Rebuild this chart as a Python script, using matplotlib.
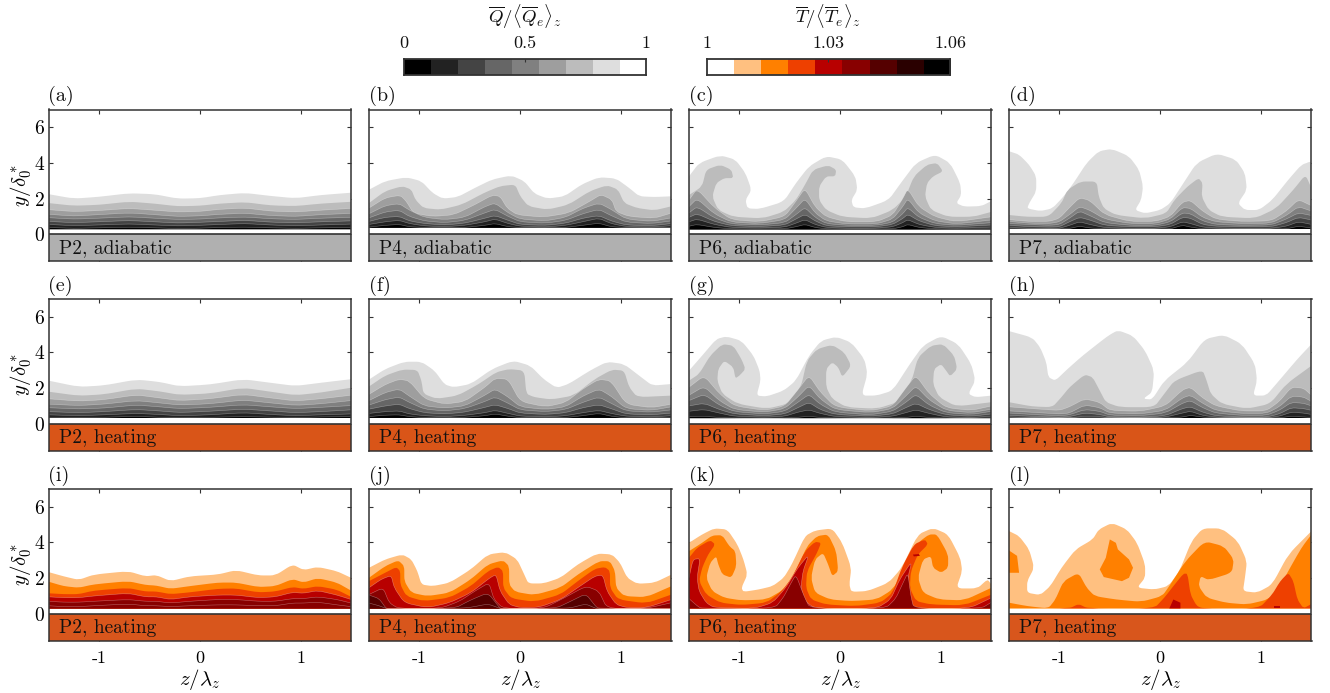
import numpy as np
import matplotlib
matplotlib.use("Agg")
import matplotlib.pyplot as plt
from matplotlib.colors import ListedColormap
from matplotlib.patches import PathPatch, Rectangle
from matplotlib.path import Path

plt.rcParams['font.family'] = ['cmr10', 'DejaVu Serif']
plt.rcParams['mathtext.fontset'] = 'cm'
plt.rcParams['axes.unicode_minus'] = False
plt.rcParams['axes.formatter.use_mathtext'] = True

# ---------- colours / ticks ----------
q_colors = ['#000000', '#222222', '#444444', '#666666', '#808080', '#9e9e9e', '#bcbcbc', '#dedede', '#ffffff']
t_colors = ['#ffffff', '#ffc080', '#ff8000', '#ee4000', '#b80000', '#880000', '#550000', '#2a0000', '#000000']
q_ticks = ['0', '0.5', '1']
t_ticks = ['1', '1.03', '1.06']
panel_letters = list('abcdefghijkl')
panel_names = ['P2, adiabatic', 'P4, adiabatic', 'P6, adiabatic', 'P7, adiabatic',
               'P2, heating', 'P4, heating', 'P6, heating', 'P7, heating',
               'P2, heating', 'P4, heating', 'P6, heating', 'P7, heating']
wall_adiabatic = '#b0b0b0'
wall_heat_q = '#d95518'
wall_heat_t = '#d8561c'

# ---------- panel a ----------
a_floor = 0.29
a_z = [-1.5,-1.25,-1,-.7,-.45,-.22,0,.2,.45,.7,.95,1.2,1.5]
a8 = [2.25,2.0,2.1,2.3,2.25,2.0,2.02,2.2,2.32,2.15,2.02,2.2,2.33]
a7 = [1.75,1.6,1.65,1.83,1.72,1.57,1.6,1.72,1.8,1.62,1.58,1.72,1.82]
a6 = [1.38,1.27,1.33,1.45,1.35,1.25,1.28,1.4,1.47,1.3,1.25,1.35,1.45]
a5 = [1.12,1.02,1.1,1.2,1.1,1.0,1.03,1.12,1.18,1.05,1.0,1.1,1.17]
a4 = [.93,.85,.9,.98,.9,.83,.85,.92,.97,.87,.83,.9,.95]
a3 = [.72,.65,.7,.77,.7,.63,.67,.72,.78,.68,.64,.7,.75]
a2 = [.55,.48,.52,.58,.52,.47,.5,.55,.6,.52,.47,.52,.57]
a1 = [.38,.33,.36,.4,.36,.32,.34,.38,.4,.36,.33,.36,.38]

# ---------- panel b ----------
b_floor = 0.37
b8 = [(-1.5,2.5),(-1.34,2.98),(-1.13,3.2),(-.98,2.98),(-.87,2.32),(-.77,2.0),(-.62,2.09),(-.45,2.6),(-.28,3.07),(-.09,3.3),(.04,2.98),(.14,2.28),(.27,2.0),(.44,2.13),(.61,2.8),(.78,3.2),(.95,3.13),(1.08,2.6),(1.18,2.13),(1.33,2.09),(1.5,2.13)]
b7 = [(-1.5,1.75),(-1.34,2.42),(-1.17,2.7),(-1.08,2.51),(-1.04,1.94),(-.96,1.47),(-.79,1.38),(-.58,1.66),(-.36,2.32),(-.2,2.7),(-.05,2.79),(0,2.13),(.08,1.57),(.27,1.38),(.48,1.66),(.69,2.42),(.86,2.75),(.97,2.51),(1.03,1.75),(1.16,1.47),(1.33,1.34),(1.5,1.57)]
b6 = [(-1.5,1.47),(-1.34,2.04),(-1.19,2.19),(-1.13,1.85),(-1.06,1.19),(-.87,1.0),(-.66,1.09),(-.45,1.66),(-.28,2.19),(-.2,2.13),(-.13,1.47),(-.03,1.09),(.23,.96),(.48,1.19),(.69,1.85),(.8,2.23),(.91,1.94),(.95,1.28),(1.08,1.0),(1.33,.9),(1.5,1.19)]
b_z = [-1.5,-1.34,-1.2,-1.1,-.95,-.75,-.55,-.35,-.25,-.12,0,.25,.45,.62,.78,.9,1.05,1.3,1.5]
b5 = [1.15,1.6,1.72,1.35,.95,.82,.95,1.55,1.75,1.2,.85,.75,.95,1.45,1.75,1.4,.85,.72,.92]
b4 = [.92,1.25,1.35,1.0,.75,.65,.78,1.2,1.4,1.0,.7,.62,.78,1.15,1.4,1.05,.68,.6,.75]
b3 = [.72,.95,1.0,.75,.6,.52,.62,.9,1.05,.78,.55,.5,.62,.9,1.05,.75,.52,.48,.6]
b2 = [.55,.7,.78,.6,.47,.42,.5,.7,.85,.6,.45,.4,.5,.7,.9,.6,.43,.4,.48]
b1 = [.4,.5,.55,.42,.38,.38,.38,.5,.6,.42,.38,.38,.38,.5,.62,.42,.38,.38,.38]

# ---------- panel c ----------
c_floor = 0.28
c8 = [(-1.5,3.25),(-1.4,4.0),(-1.19,4.43),(-1.04,4.19),(-.94,3.43),(-.88,2.49),(-.94,1.92),(-.92,1.45),(-.8,1.42),(-.56,1.83),(-.44,2.87),(-.31,3.81),(-.14,4.38),(.02,4.19),(.15,3.25),(.17,2.49),(.11,1.92),(.13,1.51),(.25,1.45),(.48,1.92),(.6,2.87),(.75,4.0),(.94,4.47),(1.09,4.0),(1.19,2.87),(1.2,2.2),(1.15,1.74),(1.23,1.55),(1.4,1.58),(1.5,1.87)]
c7 = [(-1.5,2.2),(-1.37,2.68),(-1.33,3.62),(-1.19,3.9),(-1.08,3.62),(-1.06,3.15),(-1.15,3.15),(-1.23,2.87),(-1.27,2.11),(-1.21,1.36),(-1.06,.98),(-.77,.89),(-.56,1.26),(-.44,1.92),(-.35,2.77),(-.27,3.62),(-.12,3.87),(-.04,3.62),(-.05,3.25),(-.14,3.25),(-.21,2.68),(-.21,1.92),(-.14,1.36),(.02,.98),(.31,.89),(.52,1.36),(.65,2.11),(.73,3.25),(.86,3.9),(.96,4.0),(1.02,3.53),(.92,3.25),(.86,2.87),(.84,2.11),(.9,1.36),(1.07,.98),(1.32,.98),(1.5,1.26)]
c_z = [-1.5,-1.42,-1.25,-1.08,-.8,-.55,-.44,-.35,-.25,-.14,.06,.36,.52,.62,.67,.78,.94,1.15,1.5]
c6 = [1.92,2.55,1.5,.82,.7,1.0,1.85,2.58,1.55,.98,.7,.7,1.08,2.0,2.55,1.55,.98,.7,.98]
c5 = [1.55,2.0,1.15,.68,.6,.82,1.45,2.0,1.2,.75,.58,.58,.85,1.55,2.0,1.2,.75,.58,.8]
c4 = [1.2,1.55,.92,.58,.52,.65,1.1,1.5,.95,.6,.5,.5,.68,1.15,1.5,.95,.6,.5,.65]
c3 = [.95,1.15,.72,.48,.43,.52,.85,1.12,.75,.48,.42,.42,.55,.88,1.12,.75,.48,.42,.52]
c2 = [.7,.85,.55,.38,.35,.4,.62,.82,.55,.38,.34,.34,.42,.65,.82,.55,.38,.34,.4]
c1 = [.45,.55,.38,.3,.3,.3,.42,.55,.38,.3,.3,.3,.3,.42,.55,.38,.3,.3,.3]

# ---------- panel d ----------
d_floor = 0.3
d8 = [(-1.5,4.66),(-1.4,4.47),(-1.3,3.9),(-1.23,3.25),(-1.23,2.4),(-1.3,1.74),(-1.32,1.45),(-1.19,1.3),(-1.07,1.45),(-.96,2.11),(-.86,2.87),(-.73,4.0),(-.61,4.66),(-.48,4.79),(-.31,4.38),(-.21,3.62),(-.17,2.68),(-.19,1.92),(-.25,1.36),(-.15,1.17),(0,1.36),(.1,1.74),(.23,2.87),(.36,4.0),(.56,4.53),(.75,4.19),(.84,3.43),(.86,2.49),(.77,1.74),(.84,1.36),(.98,1.36),(1.11,1.92),(1.27,3.06),(1.4,3.9),(1.5,4.09)]
d7 = [(-1.5,1.08),(-1.32,.98),(-1.11,.98),(-.98,1.74),(-.92,2.49),(-.79,2.96),(-.63,2.96),(-.61,2.11),(-.56,1.45),(-.44,1.08),(-.15,.89),(.06,1.17),(.14,1.92),(.27,2.68),(.38,3.15),(.42,2.87),(.41,2.11),(.48,1.36),(.61,.98),(.94,.89),(1.15,1.45),(1.32,2.49),(1.44,3.34),(1.5,2.58)]
d_z = [-1.5,-1.3,-1.1,-1.0,-.9,-.8,-.7,-.55,-.3,-.05,.1,.22,.3,.42,.55,.8,1.1,1.25,1.37,1.5]
d6 = [.82,.72,.72,.9,1.5,2.05,1.9,1.1,.72,.72,1.0,1.8,1.9,1.3,.85,.72,.75,1.3,1.95,1.6]
d5 = [.72,.62,.6,.7,1.1,1.55,1.35,.85,.6,.6,.85,1.5,1.45,.95,.7,.6,.62,1.05,1.55,1.3]
d4 = [.6,.55,.5,.55,.9,1.3,1.05,.65,.5,.5,.7,1.2,1.15,.75,.55,.5,.52,.85,1.2,1.05]
d3 = [.5,.43,.4,.42,.7,.95,.8,.5,.42,.42,.55,.95,.9,.55,.45,.42,.42,.65,.95,.8]
d2 = [.38,.33,.32,.33,.5,.7,.55,.37,.33,.33,.42,.7,.6,.4,.35,.33,.33,.45,.7,.55]
d1 = [.3,.3,.3,.3,.32,.45,.35,.3,.3,.3,.3,.5,.4,.3,.3,.3,.3,.3,.45,.35]

# ---------- panel e ----------
e_floor = 0.33
e_z = [-1.5,-1.2,-.95,-.63,-.4,-.2,.1,.43,.7,.95,1.2,1.5]
e8 = [2.42,2.07,2.15,2.48,2.35,2.1,2.2,2.5,2.3,2.12,2.3,2.5]
e7 = [1.8,1.57,1.65,1.97,1.82,1.62,1.7,2.02,1.8,1.6,1.75,2.02]
e6 = [1.4,1.27,1.35,1.62,1.45,1.3,1.4,1.65,1.45,1.28,1.4,1.6]
e5 = [1.1,1.02,1.1,1.3,1.17,1.05,1.12,1.33,1.17,1.03,1.12,1.3]
e4 = [.9,.83,.88,1.05,.95,.85,.92,1.07,.95,.85,.92,1.02]
e3 = [.68,.62,.68,.8,.72,.63,.7,.82,.72,.62,.68,.78]
e2 = [.5,.45,.5,.58,.52,.45,.5,.62,.52,.45,.5,.55]
e1 = [.36,.34,.36,.42,.36,.33,.36,.4,.37,.34,.38,.4]

# ---------- panel f ----------
f_floor = 0.33
f8 = [(-1.5,2.48),(-1.34,3.07),(-1.15,3.48),(-.98,3.48),(-.85,2.98),(-.75,2.2),(-.66,2.05),(-.49,2.23),(-.28,3.07),(-.07,3.54),(.1,3.26),(.23,2.51),(.36,2.01),(.48,2.23),(.69,2.98),(.86,3.48),(1.03,3.35),(1.2,2.61),(1.31,2.14),(1.5,2.23)]
f7 = [(-1.5,2.09),(-1.34,2.7),(-1.17,3.04),(-1.02,3.02),(-.98,2.42),(-.96,1.68),(-.83,1.4),(-.62,1.58),(-.41,2.23),(-.24,2.89),(-.11,3.07),(.04,2.98),(.06,1.68),(.14,1.49),(.31,1.36),(.53,1.58),(.74,2.51),(.91,3.04),(1.03,2.98),(1.08,2.05),(1.16,1.49),(1.5,1.58)]
f_z = [-1.5,-1.34,-1.2,-1.1,-.95,-.75,-.55,-.35,-.25,-.12,0,.25,.45,.62,.78,.9,1.05,1.3,1.5]
f6 = [1.65,2.2,2.5,2.4,1.4,1.1,1.25,2.05,2.55,2.5,1.25,.95,1.2,1.95,2.5,2.4,1.1,.9,1.1]
f5 = [1.3,1.75,1.95,1.55,1.0,.88,1.0,1.6,1.95,1.5,.95,.8,.95,1.55,1.95,1.55,.85,.75,.95]
f4 = [1.05,1.35,1.5,1.2,.82,.72,.85,1.25,1.5,1.15,.78,.68,.8,1.2,1.5,1.15,.72,.65,.78]
f3 = [.82,1.0,1.1,.85,.62,.55,.65,.92,1.07,.85,.6,.52,.62,.9,1.07,.85,.55,.5,.6]
f2 = [.58,.68,.72,.55,.45,.4,.47,.62,.75,.58,.43,.38,.45,.62,.75,.58,.42,.38,.45]
f1 = [.4,.48,.5,.4,.34,.33,.36,.45,.55,.42,.34,.33,.35,.45,.58,.42,.33,.33,.36]

# ---------- panel g ----------
g_floor = 0.32
g8 = [(-1.5,2.98),(-1.37,3.82),(-1.23,4.75),(-1.13,4.9),(-.98,4.66),(-.86,3.82),(-.8,2.98),(-.79,2.42),(-.83,1.58),(-.73,1.53),(-.56,1.86),(-.44,2.42),(-.31,3.82),(-.19,4.66),(-.04,4.88),(.11,4.56),(.24,3.63),(.27,2.79),(.21,1.58),(.36,1.58),(.52,1.86),(.69,3.35),(.82,4.38),(1.0,4.93),(1.17,4.47),(1.3,3.35),(1.34,2.42),(1.27,1.68),(1.34,1.49),(1.5,1.58)]
g7 = [(-1.5,2.42),(-1.4,2.79),(-1.29,3.82),(-1.17,4.47),(-1.06,4.38),(-.98,3.63),(-.94,3.07),(-1.0,2.7),(-1.04,2.55),(-1.06,3.17),(-1.15,3.54),(-1.21,3.07),(-1.22,2.42),(-1.17,1.68),(-1.02,1.12),(-.73,.84),(-.52,1.12),(-.39,2.05),(-.33,3.54),(-.23,4.19),(-.08,4.43),(.04,4.0),(.11,3.26),(.02,2.61),(-.02,3.17),(-.08,3.45),(-.14,3.07),(-.14,2.05),(-.08,1.4),(.06,.93),(.36,.84),(.57,1.21),(.71,2.42),(.77,3.72),(.9,4.38),(1.02,4.47),(1.13,3.82),(1.16,3.07),(1.09,2.66),(1.05,2.98),(1.0,3.35),(.93,3.07),(.92,2.23),(.98,1.49),(1.15,.97),(1.5,1.21)]
g_z = [-1.5,-1.35,-1.2,-1.05,-.75,-.55,-.42,-.31,-.2,-.05,.3,.52,.65,.75,.88,1.05,1.3,1.5]
g6 = [2.05,2.7,1.7,1.0,.75,1.0,1.9,2.72,1.8,.95,.72,1.0,2.0,2.72,1.7,.9,.75,1.0]
g5 = [1.6,2.1,1.3,.8,.65,.85,1.5,2.15,1.4,.8,.62,.85,1.55,2.12,1.35,.75,.62,.82]
g4 = [1.3,1.65,1.05,.68,.55,.7,1.2,1.65,1.1,.65,.5,.7,1.2,1.65,1.05,.62,.52,.7]
g3 = [1.0,1.15,.8,.55,.45,.55,.9,1.2,.8,.52,.42,.55,.9,1.15,.8,.5,.42,.55]
g2 = [.7,.8,.6,.42,.37,.42,.65,.78,.58,.4,.35,.42,.62,.78,.58,.38,.35,.42]
g1 = [.4,.42,.35,.32,.32,.32,.36,.42,.35,.32,.32,.32,.35,.42,.35,.32,.32,.33]

# ---------- panel h ----------
h_floor = 0.33
h8 = [(-1.5,5.2),(-1.27,4.84),(-1.19,4.28),(-1.13,3.45),(-1.11,2.61),(-1.04,2.42),(-.92,3.07),(-.77,3.82),(-.52,4.93),(-.42,5.25),(-.27,4.93),(-.15,4.1),(-.06,2.98),(-.08,1.77),(-.17,1.4),(-.08,1.36),(.04,2.42),(.27,3.45),(.44,4.75),(.63,4.99),(.81,4.47),(.94,3.35),(.96,2.42),(.92,1.58),(1.05,1.58),(1.15,2.23),(1.36,3.63),(1.5,4.47)]
h7 = [(-1.5,1.21),(-1.27,.97),(-1.07,.93),(-.98,1.49),(-.9,2.05),(-.75,2.76),(-.67,2.61),(-.6,1.86),(-.54,1.21),(-.4,.93),(-.06,.93),(.04,1.68),(.14,2.42),(.42,3.02),(.46,2.42),(.5,1.68),(.61,1.12),(.86,.84),(1.09,1.12),(1.25,2.23),(1.5,3.26)]
h_z = [-1.5,-1.2,-1.0,-.9,-.75,-.6,-.5,-.2,.05,.22,.3,.42,.55,.8,1.05,1.18,1.3,1.42,1.5]
h6 = [.95,.82,.75,.95,1.4,1.2,.75,.7,1.0,1.9,2.05,1.45,1.0,.72,.72,1.25,2.05,2.0,1.6]
h5 = [.72,.62,.55,.6,1.05,.9,.6,.55,.75,1.45,1.6,1.15,.75,.58,.58,.95,1.55,1.5,1.25]
h4 = [.6,.5,.45,.5,.8,.7,.48,.45,.6,1.15,1.3,.9,.6,.47,.47,.75,1.2,1.15,1.0]
h3 = [.47,.4,.36,.4,.6,.52,.38,.36,.45,.85,.95,.65,.45,.37,.37,.55,.9,.85,.75]
h2 = [.38,.33,.33,.33,.42,.4,.33,.33,.37,.6,.7,.47,.37,.33,.33,.42,.65,.6,.52]
h1 = [.33,.33,.33,.33,.33,.33,.33,.33,.33,.37,.47,.37,.33,.33,.33,.33,.42,.38,.35]

# ---------- panel i ----------
i_floor = 0.3
i_z = [-1.5,-1.35,-1.2,-1.05,-.71,-.54,-.43,-.29,-.1,.18,.36,.58,.75,.92,1.03,1.17,1.36,1.5]
i1 = [2.34,2.1,1.9,2.2,2.39,2.1,2.17,1.83,2.1,2.2,2.45,2.15,2.15,2.77,2.45,2.63,2.39,2.02]
i2 = [1.8,1.55,1.46,1.65,1.83,1.62,1.58,1.4,1.55,1.75,1.75,1.5,1.55,1.95,1.75,2.0,1.75,1.3]
i3 = [1.15,1.1,1.1,1.3,1.45,1.25,1.25,1.1,1.2,1.4,1.42,1.2,1.25,1.5,1.4,1.55,1.35,.95]
i4 = [.95,.9,.9,1.0,1.15,.95,.95,.8,.95,1.05,1.05,.9,.95,1.2,1.15,1.3,1.05,.8]
i5 = [.7,.65,.65,.7,.8,.7,.7,.6,.7,.8,.8,.7,.7,.85,.85,.95,.8,.6]
i6 = [.45,.4,.4,.45,.55,.45,.45,.4,.45,.5,.5,.45,.45,.6,.6,.65,.5,.4]

# ---------- panel j ----------
j_floor = 0.3
j1 = [(-1.5,2.58),(-1.34,3.05),(-1.17,3.33),(-1.08,3.05),(-1.02,2.39),(-.98,1.64),(-.87,1.55),(-.7,1.74),(-.49,2.49),(-.32,3.33),(-.15,3.46),(-.03,3.05),(.04,2.2),(.08,1.7),(.23,1.7),(.4,2.02),(.57,2.77),(.76,3.38),(.91,3.33),(.99,2.86),(1.06,2.02),(1.16,1.68),(1.33,1.74),(1.5,2.2)]
j2 = [(-1.5,2.02),(-1.34,2.67),(-1.21,3.0),(-1.15,2.67),(-1.15,1.83),(-1.08,1.18),(-.92,.99),(-.7,1.18),(-.49,1.93),(-.32,2.77),(-.17,3.0),(-.11,2.67),(-.11,1.64),(-.05,1.23),(.14,1.05),(.4,1.46),(.57,2.2),(.78,2.95),(.89,2.95),(.94,2.39),(.95,1.46),(1.03,.99),(1.25,.93),(1.5,1.55)]
j3 = [(-1.5,1.83),(-1.34,2.3),(-1.23,2.62),(-1.19,2.39),(-1.19,1.64),(-1.13,.99),(-.96,.71),(-.7,.9),(-.49,1.55),(-.32,2.39),(-.22,2.63),(-.17,2.39),(-.17,1.46),(-.09,.86),(.14,.67),(.4,1.08),(.57,1.83),(.74,2.52),(.84,2.62),(.89,2.39),(.89,1.46),(.97,.8),(1.25,.58),(1.5,1.08)]
j4 = [(-1.5,1.46),(-1.38,1.93),(-1.28,2.15),(-1.25,1.46),(-1.15,.62),(-.92,.34),(-.7,.62),(-.49,1.18),(-.3,2.02),(-.24,2.2),(-.2,1.27),(-.11,.52),(0,.34),(.19,.37),(.4,.8),(.57,1.46),(.74,2.11),(.82,2.17),(.86,1.27),(.95,.52),(1.06,.34),(1.25,.34),(1.5,.8)]
j5 = [(-1.5,1.08),(-1.36,1.46),(-1.3,.62),(-1.21,.3),(-.79,.3),(-.6,.71),(-.45,1.27),(-.31,1.74),(-.26,.8),(-.17,.3),(.23,.3),(.44,.9),(.65,1.55),(.78,1.27),(.86,.3),(1.25,.3),(1.5,.62)]
j_z = [-1.5,-1.4,-1.33,-1.3,-.65,-.5,-.32,-.2,-.18,.35,.5,.65,.75,.78,1.5]
j6 = [1.05,.85,.3,.3,.3,.75,1.18,.3,.3,.3,.7,1.12,.4,.3,.3]
j7 = [.6,.45,.3,.3,.3,.35,.55,.3,.3,.3,.33,.55,.3,.3,.3]

# ---------- panel k ----------
k_floor = 0.3
k1 = [(-1.5,3.98),(-1.37,4.45),(-1.25,4.79),(-1.12,4.73),(-1.02,3.89),(-.96,3.05),(-.92,2.2),(-.98,1.46),(-.96,1.23),(-.81,1.36),(-.67,1.55),(-.56,2.02),(-.48,2.77),(-.35,4.36),(-.25,4.67),(-.08,4.79),(.02,3.98),(.11,2.58),(.09,1.64),(.11,1.23),(.27,1.27),(.48,1.74),(.61,2.58),(.77,4.45),(.92,4.82),(1.07,4.45),(1.19,3.14),(1.21,2.39),(1.15,1.42),(1.36,1.42),(1.46,1.93),(1.5,1.64)]
k2 = [(-1.5,3.51),(-1.37,3.98),(-1.27,4.39),(-1.17,4.41),(-1.1,3.79),(-1.04,3.51),(-1.03,2.67),(-1.08,2.02),(-1.17,2.21),(-1.21,2.77),(-1.23,3.23),(-1.29,2.86),(-1.33,2.02),(-1.27,1.27),(-1.15,.9),(-.98,.75),(-.73,.8),(-.56,1.36),(-.44,2.39),(-.33,3.79),(-.23,4.36),(-.12,4.45),(-.04,3.51),(-.02,2.39),(-.08,2.11),(-.12,2.77),(-.17,3.42),(-.25,3.05),(-.29,2.02),(-.25,1.18),(-.1,.8),(.11,.71),(.36,.8),(.52,1.36),(.65,2.58),(.77,3.98),(.88,4.45),(.96,4.45),(1.07,3.33),(1.07,2.58),(1.0,2.3),(.92,2.58),(.9,3.23),(.82,3.05),(.77,2.02),(.82,1.18),(.98,.8),(1.23,.75),(1.5,1.46)]
k3 = [(-1.5,3.14),(-1.42,3.7),(-1.29,4.13),(-1.24,3.89),(-1.31,3.33),(-1.37,2.58),(-1.4,1.83),(-1.33,1.08),(-1.19,.62),(-.98,.49),(-.73,.62),(-.58,1.27),(-.48,2.02),(-.35,3.51),(-.25,4.04),(-.19,3.98),(-.23,3.42),(-.33,2.39),(-.34,1.46),(-.29,.8),(-.14,.52),(.15,.43),(.4,.62),(.52,1.18),(.61,2.58),(.73,3.89),(.84,4.17),(.87,3.89),(.77,3.33),(.7,2.39),(.69,1.46),(.75,.71),(.9,.52),(1.23,.47),(1.5,1.08)]
k4 = [(-1.5,2.02),(-1.46,3.05),(-1.39,3.1),(-1.42,2.02),(-1.4,1.27),(-1.33,.62),(-1.25,.34),(-.85,.3),(-.67,.62),(-.54,1.46),(-.42,2.58),(-.31,3.33),(-.37,2.39),(-.39,1.46),(-.35,.71),(-.25,.3),(.36,.3),(.5,.8),(.59,1.93),(.71,2.95),(.67,2.02),(.65,.9),(.71,.3),(1.28,.3),(1.5,.9)]
k4_dash = [(.72,3.32),(.78,3.35),(.79,3.25),(.73,3.22)]
k_z = [-1.5,-1.42,-1.38,-.65,-.56,-.5,-.44,-.36,-.3,.45,.55,.62,.67,.7,.73,1.4,1.5]
k5 = [.85,.45,.3,.3,.95,1.6,2.2,1.0,.3,.3,.85,1.7,2.3,1.0,.3,.3,.65]

# ---------- panel l ----------
l_floor = 0.3
l1 = [(-1.5,4.64),(-1.4,4.36),(-1.3,3.61),(-1.25,2.58),(-1.32,1.83),(-1.32,1.18),(-1.19,1.05),(-1.09,1.55),(-.98,2.58),(-.84,3.61),(-.67,4.17),(-.61,4.73),(-.48,5.1),(-.33,4.73),(-.23,3.98),(-.15,2.77),(-.15,2.02),(-.23,1.46),(-.06,1.36),(.08,1.55),(.19,2.39),(.31,4.07),(.42,4.79),(.61,4.79),(.77,4.07),(.86,2.95),(.84,2.02),(.82,1.27),(.96,1.18),(1.11,1.64),(1.27,3.33),(1.5,4.64)]
l2 = [(-1.5,.62),(-1.32,.43),(-1.11,.3),(-1.04,.8),(-.96,1.83),(-.81,2.3),(-.73,1.46),(-.65,.99),(-.44,.8),(-.19,.67),(.02,.99),(.1,1.64),(.25,2.95),(.44,4.07),(.63,3.79),(.73,3.05),(.71,2.3),(.48,1.89),(.4,2.11),(.38,1.55),(.46,.9),(.65,.62),(.86,.52),(1.07,.8),(1.19,1.46),(1.25,2.2),(1.4,3.7),(1.5,4.45)]
l2_pocket = [(-1.5,3.55),(-1.42,3.25),(-1.4,2.3),(-1.5,2.3)]
l2_blob = [(-.5,4.17),(-.44,3.98),(-.42,3.61),(-.31,3.05),(-.27,2.58),(-.31,2.02),(-.38,1.83),(-.56,2.06),(-.6,2.49),(-.54,3.14),(-.52,3.66)]
l_z = [-1.5,-.9,-.81,-.72,-.06,.04,.13,.23,.27,.3,.36,.42,.98,1.11,1.19,1.27,1.32,1.36,1.42,1.5]
l3 = [.3,.3,.55,.3,.3,.9,1.55,2.25,2.25,1.08,.45,.3,.3,1.08,1.83,2.3,1.83,.8,.3,.55]
l4_a = [(.09,.3),(.13,.8),(.2,.62),(.2,.3)]
l4_b = [(1.13,.3),(1.13,.42),(1.19,.42),(1.19,.3)]


def pairs(z, y):
    return list(zip(z, y))


q_panels = {
    'a': (a_floor, [(k, pairs(a_z, v)) for k, v in zip(range(7, -1, -1), [a8, a7, a6, a5, a4, a3, a2, a1])], []),
    'b': (b_floor, [(7, b8), (6, b7), (5, b6)] + [(k, pairs(b_z, v)) for k, v in zip(range(4, -1, -1), [b5, b4, b3, b2, b1])], []),
    'c': (c_floor, [(7, c8), (6, c7)] + [(k, pairs(c_z, v)) for k, v in zip(range(5, -1, -1), [c6, c5, c4, c3, c2, c1])], []),
    'd': (d_floor, [(7, d8), (6, d7)] + [(k, pairs(d_z, v)) for k, v in zip(range(5, -1, -1), [d6, d5, d4, d3, d2, d1])], []),
    'e': (e_floor, [(k, pairs(e_z, v)) for k, v in zip(range(7, -1, -1), [e8, e7, e6, e5, e4, e3, e2, e1])], []),
    'f': (f_floor, [(7, f8), (6, f7)] + [(k, pairs(f_z, v)) for k, v in zip(range(5, -1, -1), [f6, f5, f4, f3, f2, f1])], []),
    'g': (g_floor, [(7, g8), (6, g7)] + [(k, pairs(g_z, v)) for k, v in zip(range(5, -1, -1), [g6, g5, g4, g3, g2, g1])], []),
    'h': (h_floor, [(7, h8), (6, h7)] + [(k, pairs(h_z, v)) for k, v in zip(range(5, -1, -1), [h6, h5, h4, h3, h2, h1])], []),
}
t_panels = {
    'i': (i_floor, [(k, pairs(i_z, v)) for k, v in zip([1, 2, 3, 4, 5, 5], [i1, i2, i3, i4, i5, i6])], []),
    'j': (j_floor, [(1, j1), (2, j2), (3, j3), (4, j4), (5, j5), (6, pairs(j_z, j6)), (6, pairs(j_z, j7))], []),
    'k': (k_floor, [(1, k1), (2, k2), (3, k3), (4, k4), (5, pairs(k_z, k5))], [(4, k4_dash)]),
    'l': (l_floor, [(1, l1), (2, l2), (3, pairs(l_z, l3))], [(2, l2_pocket), (2, l2_blob), (4, l4_a), (4, l4_b)]),
}

CORNER = 0.3  # how far along each segment the rounded corner starts


def smooth_codes(pts):
    """Path through the traced points with each corner rounded by a CURVE3."""
    verts, codes = [pts[0]], [Path.MOVETO]
    for p, a, n in zip(pts[:-2], pts[1:-1], pts[2:]):
        enter = (a[0] + (p[0] - a[0]) * CORNER, a[1] + (p[1] - a[1]) * CORNER)
        leave = (a[0] + (n[0] - a[0]) * CORNER, a[1] + (n[1] - a[1]) * CORNER)
        verts += [enter, a, leave]
        codes += [Path.LINETO, Path.CURVE3, Path.CURVE3]
    verts.append(pts[-1])
    codes.append(Path.LINETO)
    return verts, codes


def draw_level(ax, pts, color, floor, line):
    verts, codes = smooth_codes(pts)
    fv = [(pts[0][0], floor)] + verts + [(pts[-1][0], floor), (pts[0][0], floor)]
    fc = [Path.MOVETO, Path.LINETO] + codes[1:] + [Path.LINETO, Path.CLOSEPOLY]
    ax.add_patch(PathPatch(Path(fv, fc), facecolor=color, edgecolor='none', lw=0, zorder=2))
    if line:
        ax.add_patch(PathPatch(Path(verts, codes), facecolor='none', edgecolor='#ffffff',
                               lw=0.4, alpha=0.38, zorder=2))


def draw_pocket(ax, pts, color):
    ax.fill([p[0] for p in pts], [p[1] for p in pts], color=color, lw=0, zorder=2)


W, H = 1330.0, 693.0
fig = plt.figure(figsize=(13.3, 6.93), dpi=100)
col_left = [48.5, 369.0, 689.0, 1009.0]
row_top = [109.5, 299.0, 489.0]
ax_w, ax_h = 302.5, 151.5
frame_color = '#333333'

for idx, letter in enumerate(panel_letters):
    r, c = divmod(idx, 4)
    ax = fig.add_axes([col_left[c] / W, 1 - (row_top[r] + ax_h) / H, ax_w / W, ax_h / H])
    ax.set_xlim(-1.5, 1.5)
    ax.set_ylim(-1.5, 7)
    if letter in q_panels:
        floor, levels, pockets = q_panels[letter]
        cols = q_colors
        for k, pts in levels:
            draw_level(ax, pts, cols[k], floor, k <= 5)
    else:
        floor, levels, pockets = t_panels[letter]
        cols = t_colors
        for k, pts in levels:
            draw_level(ax, pts, cols[k], floor, k >= 4)
    for k, pts in pockets:
        draw_pocket(ax, pts, cols[k])
    wall = wall_adiabatic if r == 0 else (wall_heat_q if r == 1 else wall_heat_t)
    ax.add_patch(Rectangle((-1.5, -1.5), 3, 1.5, facecolor=wall, edgecolor='none', zorder=3))
    ax.axhline(0, color=frame_color, lw=1.2, zorder=4)
    ax.text(-1.4, -0.8, panel_names[idx], fontsize=14, va='center', ha='left', color='#111111', zorder=5)
    ax.text(0.0, 1.02, f'({letter})', transform=ax.transAxes, fontsize=14.5, va='bottom', ha='left', color='#111111')
    ax.set_xticks([-1, 0, 1])
    ax.set_yticks([0, 2, 4, 6])
    ax.tick_params(direction='in', top=True, right=True, length=3, width=0.8, color=frame_color, zorder=6)
    if r == 2:
        ax.set_xticklabels(['-1', '0', '1'], fontsize=13)
        ax.tick_params(axis='x', pad=7)
        ax.set_xlabel(r'$z/\lambda_z$', fontsize=15, labelpad=1)
    else:
        ax.set_xticklabels([])
    if c == 0:
        ax.set_yticklabels(['0', '2', '4', '6'], fontsize=14)
        ax.tick_params(axis='y', pad=3)
        ax.set_ylabel(r'$y/\delta_0^*$', fontsize=15, labelpad=0)
    else:
        ax.set_yticklabels([])
    for s in ax.spines.values():
        s.set_color(frame_color)
        s.set_linewidth(1.1)
        s.set_zorder(7)


def colorbar(x0, x1, colors, labels, title):
    ax = fig.add_axes([x0 / W, 1 - 75 / H, (x1 - x0) / W, 16 / H])
    ax.imshow(np.arange(len(colors)).reshape(1, -1), cmap=ListedColormap(colors),
              extent=[0, 1, 0, 1], aspect='auto', interpolation='nearest')
    ax.set_xticks([0.5])
    ax.set_xticklabels([])
    ax.set_yticks([])
    ax.tick_params(axis='x', direction='in', bottom=False, top=True, length=2, width=0.8, color=frame_color)
    for s in ax.spines.values():
        s.set_color(frame_color)
        s.set_linewidth(1.3)
    for pos, lab in zip([0, 0.5, 1], labels):
        ax.text(pos, 1.48, lab, transform=ax.transAxes, fontsize=13, ha='center', va='bottom', color='#111111')
    ax.text(0.5, 2.72, title, transform=ax.transAxes, fontsize=13.5, ha='center', va='bottom', color='#111111')


colorbar(404, 646, q_colors, q_ticks, r'$\overline{Q}/\langle\overline{Q}_e\rangle_z$')
colorbar(706.5, 950, t_colors, t_ticks, r'$\overline{T}/\langle\overline{T}_e\rangle_z$')

fig.savefig('out.png', dpi=100, facecolor='white')
